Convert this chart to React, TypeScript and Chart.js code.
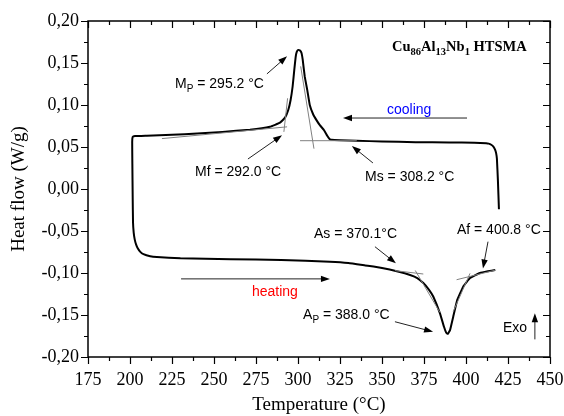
import React, { useEffect, useRef } from 'react';
import { Chart, registerables } from 'chart.js';

Chart.register(...registerables);

// ---- DSC curve (one continuous trace: cooling from 420 °C, then heating from 200 °C)
const curveT = [
  419.6, 419.0, 418.4, 417.9, 417.3, 416.3, 415.0, 413.5, 412, 405, 390, 370, 350, 335, 325, 320,
  318.8, 317.5, 315.5, 313, 311, 309, 307, 305.5, 304, 302.8, 302.1, 301.2, 300.2,
  299.2, 298.6, 297.8, 296.8, 295.6, 294.2, 292.3, 289.3, 283.3, 271.4, 255, 240, 225,
  210, 203, 201.6, 201.3,
  201.4, 201.6, 201.8, 202.2, 202.8, 203.6, 204.6, 206, 208, 212, 216, 230, 260, 290, 319,
  330, 340, 350, 360, 366.7, 371, 374.6, 378, 380.5, 384.5, 386.9, 388.2, 389.2, 390.5,
  392.4, 394.8, 398.4, 402.4, 408.3, 413, 417.3,
];
const curveV = [
  -0.024, 0.010, 0.036, 0.043, 0.047, 0.0505, 0.0527, 0.054, 0.0545, 0.055, 0.0555, 0.0558, 0.0565, 0.0575, 0.058, 0.0585,
  0.0595, 0.063, 0.070, 0.076, 0.082, 0.089, 0.100, 0.118, 0.134, 0.154, 0.162, 0.165, 0.1655,
  0.163, 0.157, 0.142, 0.122, 0.106, 0.094, 0.085, 0.079, 0.074, 0.0705, 0.068, 0.066, 0.0645,
  0.0635, 0.063, 0.062, 0.056,
  0.030, -0.010, -0.040, -0.052, -0.060, -0.066, -0.0705, -0.0745, -0.0775, -0.0800, -0.0810, -0.0825, -0.0835, -0.0845, -0.0865,
  -0.088, -0.091, -0.094, -0.0985, -0.1024, -0.106, -0.112, -0.120, -0.128, -0.148, -0.164, -0.171, -0.1725, -0.168,
  -0.152, -0.132, -0.116, -0.106, -0.100, -0.098, -0.0965,
];

// ---- onset tangents (start/end of each thin grey segment)
const tangentStartT = [219, 293.8, 301.2, 301.6, 357.7, 369.8, 394.4, 392.4];
const tangentStartV = [0.060, 0.108, 0.0575, 0.146, -0.0972, -0.097, -0.108, -0.146];
const tangentEndT = [293.5, 291.6, 335, 309.5, 374.6, 384.5, 417.9, 402.4];
const tangentEndV = [0.074, 0.068, 0.0575, 0.048, -0.1012, -0.147, -0.0964, -0.1004];

// ---- arrows (tail -> head)
const arrowFromT = [400.6, 230.4, 281.5, 270.2, 344.6, 345.8, 413.1, 357.7, 441];
const arrowFromV = [0.0845, -0.107, 0.137, 0.0357, 0.031, -0.0687, -0.0627, -0.158, -0.179];
const arrowToT = [326.8, 319, 293.5, 290.5, 332.1, 358.3, 410.1, 380.4, 441];
const arrowToV = [0.0845, -0.107, 0.158, 0.064, 0.0512, -0.0885, -0.0945, -0.170, -0.148];

// ---- annotation texts (left edge, vertical centre, in data units)
const labelText = [
  'M_{P} = 295.2 °C', 'Mf = 292.0 °C', 'Ms = 308.2 °C', 'cooling', 'heating',
  'As = 370.1°C', 'Af = 400.8 °C', 'A_{P} = 388.0 °C', 'Exo', 'Cu_{86}Al_{13}Nb_{1} HTSMA',
];
const labelT = [226.8, 238.7, 339.9, 353, 272.6, 309.5, 394.6, 303, 422, 356];
const labelV = [0.125, 0.0202, 0.0143, 0.094, -0.1226, -0.0536, -0.0488, -0.150, -0.1655, 0.169];
const labelColor = ['#000', '#000', '#000', '#0000ff', '#ff0000', '#000', '#000', '#000', '#000', '#000'];
const labelIsTitle = [false, false, false, false, false, false, false, false, false, true];

// ---- axes
const X_MIN = 175, X_MAX = 450, X_STEP = 25;
const Y_MIN = -0.2, Y_MAX = 0.2, Y_STEP = 0.05;
const xTitle = 'Temperature (°C)';
const yTitle = 'Heat flow (W/g)';

function parseRich(s: string) {
  const parts: { t: string; sub: boolean }[] = [];
  const re = /_\{([^}]*)\}/g;
  let last = 0;
  let m: RegExpExecArray | null;
  while ((m = re.exec(s))) {
    if (m.index > last) parts.push({ t: s.slice(last, m.index), sub: false });
    parts.push({ t: m[1], sub: true });
    last = m.index + m[0].length;
  }
  if (last < s.length) parts.push({ t: s.slice(last), sub: false });
  return parts;
}

const overlay = {
  id: 'overlay',
  afterDraw(chart: any) {
    const ctx: CanvasRenderingContext2D = chart.ctx;
    const xs = chart.scales.x;
    const ys = chart.scales.y;
    const { left, right, top, bottom } = chart.chartArea;
    ctx.save();

    // arrows
    for (let i = 0; i < arrowFromT.length; i++) {
      const x1 = xs.getPixelForValue(arrowFromT[i]);
      const y1 = ys.getPixelForValue(arrowFromV[i]);
      const x2 = xs.getPixelForValue(arrowToT[i]);
      const y2 = ys.getPixelForValue(arrowToV[i]);
      const a = Math.atan2(y2 - y1, x2 - x1);
      const hl = 9, hw = 3.2;
      ctx.strokeStyle = '#222';
      ctx.lineWidth = 1;
      ctx.beginPath();
      ctx.moveTo(x1, y1);
      ctx.lineTo(x2 - Math.cos(a) * hl * 0.8, y2 - Math.sin(a) * hl * 0.8);
      ctx.stroke();
      ctx.fillStyle = '#000';
      ctx.beginPath();
      ctx.moveTo(x2, y2);
      ctx.lineTo(x2 - Math.cos(a) * hl - Math.sin(a) * hw, y2 - Math.sin(a) * hl + Math.cos(a) * hw);
      ctx.lineTo(x2 - Math.cos(a) * hl + Math.sin(a) * hw, y2 - Math.sin(a) * hl - Math.cos(a) * hw);
      ctx.closePath();
      ctx.fill();
    }

    // annotation labels
    ctx.textBaseline = 'middle';
    ctx.textAlign = 'left';
    for (let i = 0; i < labelText.length; i++) {
      let x = xs.getPixelForValue(labelT[i]);
      const y = ys.getPixelForValue(labelV[i]);
      const title = labelIsTitle[i];
      const main = title ? 'bold 14.5px "Liberation Serif"' : '14px "Liberation Sans"';
      const sub = title ? 'bold 10.5px "Liberation Serif"' : '10px "Liberation Sans"';
      ctx.fillStyle = labelColor[i];
      for (const p of parseRich(labelText[i])) {
        ctx.font = p.sub ? sub : main;
        ctx.fillText(p.t, x, p.sub ? y + 5 : y);
        x += ctx.measureText(p.t).width;
      }
    }

    // frame
    ctx.strokeStyle = '#000';
    ctx.lineWidth = 1.5;
    ctx.strokeRect(left, top, right - left, bottom - top);

    // tick marks
    ctx.lineWidth = 1.2;
    ctx.beginPath();
    const nx = Math.round((X_MAX - X_MIN) / (X_STEP / 2));
    for (let k = 0; k <= nx; k++) {
      const v = X_MIN + (k * X_STEP) / 2;
      const px = Math.round(xs.getPixelForValue(v)) + 0.5;
      const len = k % 2 === 0 ? 7 : 4;
      ctx.moveTo(px, bottom);
      ctx.lineTo(px, bottom + len);
      ctx.moveTo(px, top);
      ctx.lineTo(px, top + len);
    }
    const ny = Math.round((Y_MAX - Y_MIN) / (Y_STEP / 2));
    for (let k = 0; k <= ny; k++) {
      const v = Y_MIN + (k * Y_STEP) / 2;
      const py = Math.round(ys.getPixelForValue(v)) + 0.5;
      const len = k % 2 === 0 ? 7 : 4;
      ctx.moveTo(left, py);
      ctx.lineTo(left - len, py);
      ctx.moveTo(right, py);
      ctx.lineTo(right - len, py);
    }
    ctx.stroke();
    ctx.restore();
  },
};

export default function App() {
  const ref = useRef<HTMLCanvasElement | null>(null);
  useEffect(() => {
    document.body.style.margin = '0';
    const canvas = ref.current!;
    const tangentData: any[] = [];
    for (let i = 0; i < tangentStartT.length; i++) {
      tangentData.push({ x: tangentStartT[i], y: tangentStartV[i] });
      tangentData.push({ x: tangentEndT[i], y: tangentEndV[i] });
      tangentData.push({ x: tangentEndT[i], y: null });
    }
    const chart = new Chart(canvas, {
      type: 'line',
      data: {
        datasets: [
          {
            data: tangentData,
            borderColor: '#808080',
            borderWidth: 1,
            pointRadius: 0,
            spanGaps: false,
            tension: 0,
          },
          {
            data: curveT.map((t, i) => ({ x: t, y: curveV[i] })),
            borderColor: '#000',
            borderWidth: 2,
            pointRadius: 0,
            tension: 0.1,
          },
        ],
      },
      options: {
        responsive: false,
        animation: false,
        devicePixelRatio: 1,
        layout: { padding: { left: 0, right: 14, top: 21, bottom: 0 } },
        plugins: { legend: { display: false }, tooltip: { enabled: false } },
        scales: {
          x: {
            type: 'linear',
            min: X_MIN,
            max: X_MAX,
            afterBuildTicks: (s: any) => {
              const t = [];
              for (let v = X_MIN; v <= X_MAX + 1e-9; v += X_STEP) t.push({ value: v });
              s.ticks = t;
            },
            afterFit: (s: any) => { s.height = 59; s.paddingLeft = 0; s.paddingRight = 0; },
            grid: { display: false, drawTicks: false },
            border: { display: false },
            ticks: {
              padding: 12,
              color: '#000',
              font: { family: '"Liberation Serif"', size: 18 },
              maxRotation: 0,
              autoSkip: false,
            },
            title: {
              display: true,
              text: xTitle,
              color: '#000',
              font: { family: '"Liberation Serif"', size: 19 },
              padding: { top: 0, bottom: 0 },
            },
          },
          y: {
            type: 'linear',
            min: Y_MIN,
            max: Y_MAX,
            afterBuildTicks: (s: any) => {
              const t = [];
              for (let k = 0; k <= Math.round((Y_MAX - Y_MIN) / Y_STEP); k++) t.push({ value: Y_MIN + k * Y_STEP });
              s.ticks = t;
            },
            afterFit: (s: any) => { s.width = 88; s.paddingTop = 0; s.paddingBottom = 0; },
            grid: { display: false, drawTicks: false },
            border: { display: false },
            ticks: {
              padding: 9,
              color: '#000',
              font: { family: '"Liberation Serif"', size: 18 },
              autoSkip: false,
              callback: (v: any) => {
                const n = Math.abs(Number(v)) < 1e-9 ? 0 : Number(v);
                return n.toFixed(2).replace('.', ',');
              },
            },
            title: {
              display: true,
              text: yTitle,
              color: '#000',
              font: { family: '"Liberation Serif"', size: 19 },
              padding: { top: 8, bottom: 0 },
            },
          },
        },
      },
      plugins: [overlay],
    });
    return () => chart.destroy();
  }, []);
  return (
    <div style={{ width: 564, height: 416, background: '#fff' }}>
      <canvas ref={ref} width={564} height={416} />
    </div>
  );
}
